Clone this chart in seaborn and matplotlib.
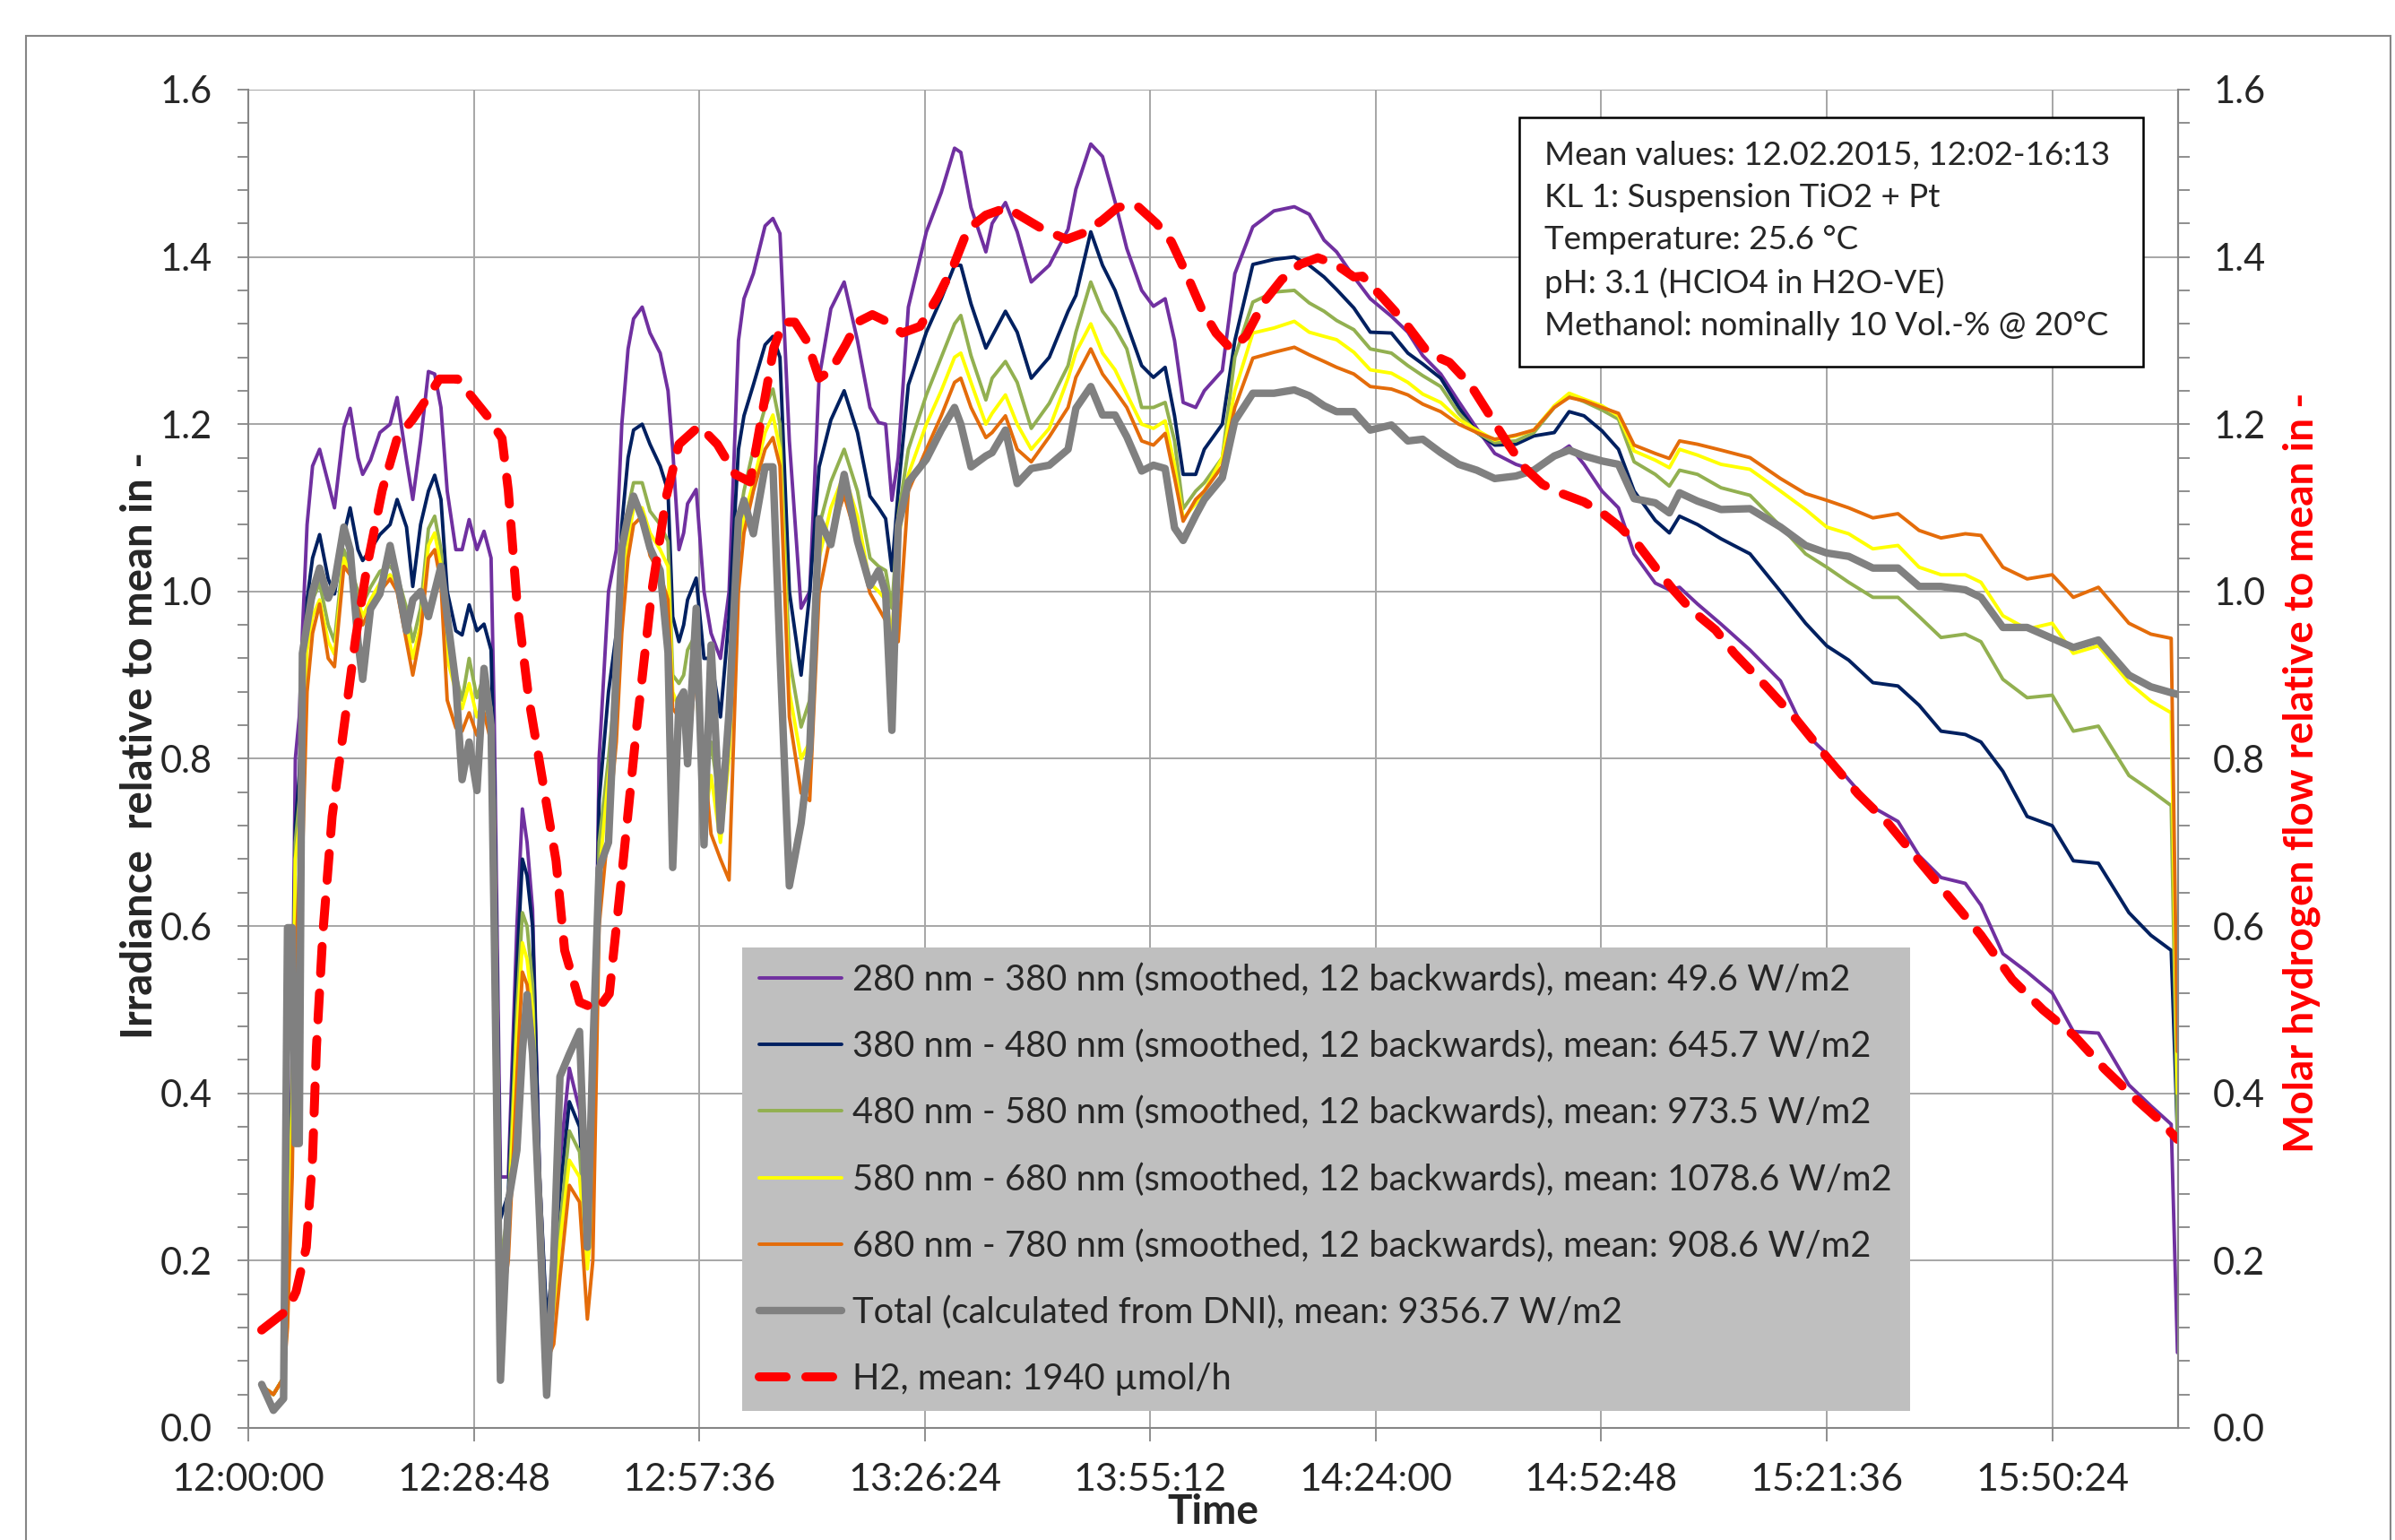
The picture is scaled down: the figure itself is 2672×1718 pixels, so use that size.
import numpy as np
import pandas as pd
import matplotlib
matplotlib.use('Agg')
import matplotlib.pyplot as plt
from matplotlib.patches import Rectangle
from matplotlib.ticker import MultipleLocator, FuncFormatter
import seaborn as sns

# time axis: minutes after 12:00:00
t_min = [1.7, 3.2, 4.5, 5.0, 5.6, 6.0, 6.5, 6.9, 7.5, 8.2,
         9.1, 10.2, 11.0, 12.2, 13.0, 14.0, 14.6, 15.6, 16.8, 18.1,
         19.0, 20.2, 21.0, 22.0, 23.0, 23.8, 24.6, 25.4, 26.5, 27.3,
         28.2, 29.2, 30.1, 31.0, 31.4, 32.2, 33.2, 34.3, 35.0, 35.6,
         36.3, 37.2, 38.1, 39.0, 39.8, 41.0, 42.3, 43.3, 44.0, 44.8,
         46.0,
         47.0, 47.7, 48.5, 49.2, 50.3, 51.3, 52.6, 53.6, 54.2, 55.0,
         55.6, 56.1, 57.2, 58.2, 59.1, 60.3, 61.4, 62.6, 63.3, 64.5,
         66.0, 67.0, 67.9, 69.1, 70.6, 71.7, 72.9, 74.4, 76.1, 77.8,
         79.4, 80.5, 81.4, 82.2, 83.0, 84.3, 86.6, 88.5, 90.2, 91.0,
         92.3, 94.2,
         95.0, 96.7, 98.2, 100.0, 102.3, 104.7, 105.7, 107.6, 109.1, 110.7,
         112.2, 114.1, 115.6, 117.1, 118.3, 119.4, 121.0, 122.1, 124.4, 126.0,
         128.3, 131.0, 133.6, 135.5, 137.4, 139.0, 141.2,
         143.3, 146.0, 148.1, 150.0, 152.3, 154.6, 156.9, 159.2, 161.9, 164.2,
         166.8, 168.7, 170.6, 172.9, 175.0, 177.0, 179.7, 181.5, 182.8, 185.1,
         188.1,
         191.8, 195.7, 198.9, 201.6, 204.4, 207.5, 210.7, 213.4, 216.2, 219.3,
         221.3, 224.1, 227.2, 230.4, 233.1, 236.3, 240.2, 243.0, 245.6, 246.4]

irr_280_380 = [0.05, 0.04, 0.06, 0.15, 0.45, 0.80, 0.85, 0.95, 1.08, 1.15,
               1.17, 1.13, 1.10, 1.196, 1.219, 1.16, 1.14, 1.157, 1.19, 1.20,
               1.232, 1.157, 1.11, 1.18, 1.263, 1.26, 1.22, 1.12, 1.05, 1.05,
               1.086, 1.05, 1.072, 1.04, 0.85, 0.30, 0.30, 0.60, 0.74, 0.70,
               0.62, 0.30, 0.12, 0.20, 0.32, 0.43, 0.38, 0.22, 0.30, 0.80,
               1.00,
               1.05, 1.20, 1.29, 1.326, 1.34, 1.309, 1.285, 1.24, 1.17, 1.05,
               1.07, 1.105, 1.122, 1.00, 0.95, 0.92, 1.00, 1.30, 1.35, 1.38,
               1.437, 1.446, 1.428, 1.18, 0.98, 1.00, 1.255, 1.338, 1.37, 1.30,
               1.22, 1.202, 1.20, 1.109, 1.16, 1.34, 1.43, 1.477, 1.53, 1.525,
               1.459, 1.406,
               1.44, 1.465, 1.43, 1.37, 1.39, 1.433, 1.481, 1.535, 1.52, 1.466,
               1.41, 1.36, 1.341, 1.35, 1.30, 1.226, 1.22, 1.24, 1.264, 1.38,
               1.436, 1.455, 1.46, 1.451, 1.42, 1.406, 1.376,
               1.35, 1.329, 1.31, 1.282, 1.26, 1.227, 1.195, 1.165, 1.152, 1.145,
               1.162, 1.174, 1.152, 1.12, 1.10, 1.045, 1.01, 1.002, 1.005, 0.985,
               0.961,
               0.93, 0.893, 0.83, 0.806, 0.775, 0.742, 0.725, 0.684, 0.658, 0.651,
               0.625, 0.567, 0.545, 0.52, 0.474, 0.472, 0.41, 0.385, 0.363, 0.09]

irr_380_480 = [0.05, 0.04, 0.06, 0.14, 0.42, 0.72, 0.78, 0.88, 0.99, 1.04,
               1.068, 1.015, 0.997, 1.068, 1.10, 1.05, 1.037, 1.05, 1.068, 1.08,
               1.11, 1.077, 1.006, 1.08, 1.12, 1.139, 1.11, 1.00, 0.953, 0.948,
               0.984, 0.953, 0.961, 0.93, 0.78, 0.25, 0.28, 0.55, 0.68, 0.66,
               0.60, 0.30, 0.13, 0.20, 0.28, 0.39, 0.36, 0.21, 0.30, 0.75,
               0.88,
               0.95, 1.08, 1.16, 1.193, 1.20, 1.176, 1.15, 1.12, 0.97, 0.94,
               0.96, 0.99, 1.016, 0.92, 0.92, 0.85, 0.97, 1.17, 1.21, 1.247,
               1.295, 1.305, 1.28, 1.00, 0.90, 0.998, 1.149, 1.205, 1.24, 1.19,
               1.114, 1.10, 1.087, 1.025, 1.12, 1.247, 1.31, 1.35, 1.39, 1.39,
               1.344, 1.291,
               1.305, 1.335, 1.31, 1.255, 1.28, 1.335, 1.354, 1.43, 1.39, 1.36,
               1.32, 1.27, 1.256, 1.268, 1.21, 1.14, 1.14, 1.17, 1.20, 1.30,
               1.391, 1.397, 1.40, 1.39, 1.376, 1.361, 1.339,
               1.31, 1.309, 1.285, 1.272, 1.255, 1.22, 1.19, 1.175, 1.176, 1.186,
               1.19, 1.215, 1.21, 1.192, 1.17, 1.12, 1.085, 1.07, 1.09, 1.08,
               1.063,
               1.045, 1.00, 0.962, 0.935, 0.918, 0.891, 0.887, 0.864, 0.833, 0.829,
               0.82, 0.785, 0.731, 0.72, 0.678, 0.675, 0.616, 0.589, 0.571, 0.35]

irr_480_580 = [0.05, 0.04, 0.06, 0.14, 0.40, 0.70, 0.75, 0.85, 0.95, 0.99,
               1.01, 0.96, 0.94, 1.05, 1.03, 1.00, 0.985, 1.005, 1.024, 1.03,
               1.02, 0.98, 0.94, 0.98, 1.075, 1.09, 1.05, 0.95, 0.90, 0.87,
               0.92, 0.873, 0.90, 0.86, 0.75, 0.20, 0.26, 0.50, 0.616, 0.60,
               0.53, 0.26, 0.10, 0.16, 0.24, 0.355, 0.33, 0.20, 0.28, 0.70,
               0.80,
               0.90, 1.02, 1.10, 1.13, 1.13, 1.096, 1.08, 1.06, 0.90, 0.89,
               0.90, 0.93, 0.95, 0.75, 0.82, 0.74, 0.84, 1.08, 1.12, 1.17,
               1.22, 1.242, 1.20, 0.92, 0.838, 0.87, 1.078, 1.131, 1.17, 1.12,
               1.04, 1.03, 1.025, 0.98, 1.09, 1.17, 1.235, 1.28, 1.32, 1.33,
               1.282, 1.229,
               1.255, 1.275, 1.25, 1.195, 1.225, 1.27, 1.31, 1.37, 1.335, 1.315,
               1.29, 1.22, 1.22, 1.226, 1.18, 1.099, 1.12, 1.13, 1.16, 1.28,
               1.346, 1.358, 1.36, 1.345, 1.335, 1.324, 1.313,
               1.29, 1.285, 1.27, 1.258, 1.245, 1.213, 1.19, 1.178, 1.18, 1.19,
               1.22, 1.234, 1.227, 1.217, 1.206, 1.155, 1.14, 1.126, 1.145, 1.14,
               1.124,
               1.115, 1.078, 1.045, 1.029, 1.011, 0.993, 0.993, 0.97, 0.945, 0.949,
               0.94, 0.895, 0.873, 0.876, 0.833, 0.839, 0.78, 0.762, 0.744, 0.35]

irr_580_680 = [0.05, 0.04, 0.06, 0.13, 0.38, 0.68, 0.72, 0.82, 0.93, 0.97,
               0.99, 0.94, 0.925, 1.04, 1.02, 0.99, 0.97, 0.99, 1.01, 1.02,
               1.01, 0.96, 0.92, 0.96, 1.055, 1.07, 1.03, 0.92, 0.88, 0.86,
               0.89, 0.85, 0.87, 0.84, 0.72, 0.18, 0.24, 0.47, 0.58, 0.56,
               0.50, 0.25, 0.09, 0.14, 0.22, 0.32, 0.30, 0.19, 0.26, 0.66,
               0.78,
               0.86, 0.99, 1.06, 1.10, 1.10, 1.07, 1.05, 1.03, 0.88, 0.86,
               0.87, 0.84, 0.90, 0.72, 0.78, 0.70, 0.80, 1.05, 1.09, 1.13,
               1.19, 1.211, 1.17, 0.88, 0.80, 0.82, 1.04, 1.10, 1.14, 1.09,
               1.01, 1.00, 0.99, 0.95, 1.06, 1.14, 1.20, 1.24, 1.28, 1.285,
               1.25, 1.20,
               1.213, 1.235, 1.20, 1.17, 1.195, 1.255, 1.286, 1.32, 1.285, 1.265,
               1.236, 1.20, 1.195, 1.204, 1.151, 1.087, 1.105, 1.12, 1.16, 1.24,
               1.309, 1.315, 1.323, 1.31, 1.305, 1.301, 1.286,
               1.265, 1.261, 1.25, 1.236, 1.226, 1.206, 1.193, 1.181, 1.186, 1.193,
               1.222, 1.237, 1.23, 1.222, 1.21, 1.168, 1.157, 1.148, 1.17, 1.163,
               1.152,
               1.146, 1.12, 1.098, 1.077, 1.069, 1.051, 1.055, 1.029, 1.02, 1.02,
               1.011, 0.971, 0.955, 0.962, 0.926, 0.935, 0.891, 0.869, 0.855, 0.40]

irr_680_780 = [0.05, 0.04, 0.06, 0.12, 0.30, 0.55, 0.66, 0.68, 0.88, 0.95,
               0.985, 0.92, 0.91, 1.03, 1.02, 0.98, 0.96, 0.98, 1.00, 1.015,
               1.00, 0.94, 0.90, 0.95, 1.04, 1.05, 1.01, 0.87, 0.837, 0.833,
               0.855, 0.828, 0.855, 0.82, 0.70, 0.13, 0.20, 0.42, 0.545, 0.53,
               0.47, 0.22, 0.08, 0.10, 0.18, 0.29, 0.27, 0.13, 0.20, 0.60,
               0.72,
               0.82, 0.95, 1.04, 1.08, 1.09, 1.043, 1.02, 0.99, 0.86, 0.85,
               0.85, 0.80, 0.91, 0.80, 0.71, 0.68, 0.655, 1.00, 1.07, 1.12,
               1.17, 1.184, 1.15, 0.85, 0.759, 0.75, 0.998, 1.069, 1.115, 1.06,
               0.998, 0.98, 0.965, 0.94, 0.94, 1.12, 1.17, 1.21, 1.25, 1.255,
               1.22, 1.184,
               1.19, 1.21, 1.17, 1.155, 1.185, 1.22, 1.256, 1.29, 1.26, 1.24,
               1.22, 1.18, 1.175, 1.189, 1.136, 1.084, 1.11, 1.12, 1.15, 1.22,
               1.279, 1.286, 1.292, 1.283, 1.275, 1.268, 1.26,
               1.245, 1.242, 1.235, 1.224, 1.215, 1.20, 1.19, 1.182, 1.187, 1.193,
               1.22, 1.232, 1.228, 1.22, 1.213, 1.175, 1.165, 1.159, 1.18, 1.176,
               1.169,
               1.16, 1.135, 1.117, 1.109, 1.10, 1.088, 1.093, 1.073, 1.064, 1.069,
               1.067, 1.029, 1.015, 1.02, 0.993, 1.005, 0.962, 0.949, 0.944, 0.45]

irr_total = [0.052, 0.021, 0.035, 0.598, 0.598, 0.34, 0.34, 0.926, 0.96, 1.00,
             1.028, 0.992, 1.01, 1.077, 1.05, 0.94, 0.895, 0.979, 0.997, 1.055,
             1.015, 0.953, 0.99, 1.00, 0.97, 1.00, 1.03, 0.97, 0.89, 0.775,
             0.82, 0.762, 0.908, 0.84, 0.60, 0.057, 0.27, 0.332, 0.45, 0.518,
             0.447, 0.25, 0.039, 0.20, 0.42, 0.447, 0.474, 0.216, 0.45, 0.669,
             0.70,
             0.91, 1.052, 1.09, 1.114, 1.087, 1.052, 1.025, 0.927, 0.67, 0.87,
             0.88, 0.794, 0.98, 0.697, 0.936, 0.714, 0.856, 1.087, 1.109, 1.069,
             1.149, 1.149, 0.927, 0.648, 0.723, 0.812, 1.087, 1.056, 1.14, 1.06,
             1.007, 1.025, 0.998, 0.834, 1.078, 1.131, 1.158, 1.193, 1.22, 1.20,
             1.149, 1.162,
             1.166, 1.193, 1.129, 1.147, 1.151, 1.17, 1.219, 1.245, 1.211, 1.211,
             1.185, 1.144, 1.151, 1.147, 1.076, 1.061, 1.091, 1.11, 1.136, 1.204,
             1.237, 1.237, 1.241, 1.234, 1.222, 1.215, 1.215,
             1.193, 1.199, 1.18, 1.182, 1.166, 1.152, 1.145, 1.135, 1.138, 1.145,
             1.162, 1.169, 1.162, 1.156, 1.152, 1.111, 1.106, 1.094, 1.118, 1.108,
             1.098,
             1.099, 1.077, 1.055, 1.046, 1.042, 1.028, 1.028, 1.006, 1.006, 1.002,
             0.993, 0.957, 0.957, 0.944, 0.933, 0.942, 0.90, 0.886, 0.879, 0.877]

# H2 flow (right axis), own time base
h2_t_min = [1.7, 5.0, 6.1, 7.4, 8.2, 8.7, 9.5, 10.7, 12.2, 13.7,
            15.2, 17.1, 19.0, 21.0, 22.9, 24.4, 26.7, 28.6, 30.5, 32.4,
            33.2, 34.3, 35.8, 37.4, 39.3, 40.4, 42.3, 44.6, 46.1, 47.7,
            49.6, 51.5, 53.4, 55.0, 57.6, 59.9, 62.2, 64.1, 65.6, 67.1,
            68.3, 69.8, 71.3, 72.9, 74.4, 76.3, 77.8, 79.7, 81.7, 83.5,
            85.8, 88.1, 90.0, 91.9, 94.2, 96.9, 98.8, 101.5, 104.5, 106.8,
            109.1, 111.0, 113.3, 116.0, 117.9, 119.8, 121.7, 123.6, 125.5, 127.4,
            129.7, 132.0, 134.3, 136.6, 138.9, 141.2, 142.3, 145.0, 147.7, 150.7,
            153.4, 156.1, 158.4, 160.7, 163.0, 165.3, 167.5, 170.6, 172.9, 175.2,
            177.5, 179.7, 182.0, 184.3, 187.4, 189.8, 193.8, 197.7, 201.6, 205.6,
            209.5, 213.4, 217.4, 221.3, 225.3, 229.2, 233.2, 237.1, 241.1, 244.2,
            246.4]
h2_rel = [0.117, 0.141, 0.163, 0.216, 0.323, 0.456, 0.589, 0.731, 0.837, 0.944,
          1.032, 1.121, 1.183, 1.206, 1.232, 1.254, 1.254, 1.232, 1.21, 1.183,
          1.121, 0.988, 0.873, 0.784, 0.678, 0.571, 0.509, 0.50, 0.519, 0.661,
          0.838, 0.998, 1.114, 1.176, 1.198, 1.176, 1.14, 1.131, 1.211, 1.291,
          1.322, 1.322, 1.30, 1.255, 1.264, 1.295, 1.322, 1.331, 1.322, 1.309,
          1.317, 1.353, 1.388, 1.433, 1.45, 1.459, 1.448, 1.433, 1.421, 1.429,
          1.444, 1.459, 1.463, 1.44, 1.418, 1.38, 1.339, 1.309, 1.29, 1.305,
          1.346, 1.373, 1.391, 1.399, 1.391, 1.376, 1.377, 1.35, 1.322, 1.285,
          1.274, 1.247, 1.213, 1.179, 1.148, 1.128, 1.118, 1.107, 1.094, 1.077,
          1.056, 1.029, 1.002, 0.978, 0.954, 0.926, 0.887, 0.847, 0.802, 0.758,
          0.722, 0.678, 0.633, 0.589, 0.536, 0.50, 0.469, 0.429, 0.393, 0.367,
          0.345]

series_labels = ['280 nm - 380 nm (smoothed, 12 backwards), mean: 49.6 W/m2',
                 '380 nm - 480 nm (smoothed, 12 backwards), mean: 645.7 W/m2',
                 '480 nm - 580 nm (smoothed, 12 backwards), mean: 973.5 W/m2',
                 '580 nm - 680 nm (smoothed, 12 backwards), mean: 1078.6 W/m2',
                 '680 nm - 780 nm (smoothed, 12 backwards), mean: 908.6 W/m2',
                 'Total (calculated from DNI), mean: 9356.7 W/m2']
h2_label = 'H2, mean: 1940 µmol/h'

info_lines = ['Mean values: 12.02.2015, 12:02-16:13',
              'KL 1: Suspension TiO2 + Pt',
              'Temperature: 25.6 °C',
              'pH: 3.1 (HClO4 in H2O-VE)',
              'Methanol: nominally 10 Vol.-% @ 20°C']

df = pd.DataFrame({'t': t_min, 'uv': irr_280_380, 'blue': irr_380_480,
                   'green': irr_480_580, 'yellow': irr_580_680,
                   'red': irr_680_780, 'total': irr_total})
df_h2 = pd.DataFrame({'t': h2_t_min, 'h2': h2_rel})

cols = ['uv', 'blue', 'green', 'yellow', 'red', 'total']
colors = ['#7030A0', '#002060', '#92B050', '#FFFF00', '#E46C0A', '#808080']
widths = [2.8, 2.8, 2.8, 2.8, 2.8, 6.0]

sns.set_theme(style='white')
plt.rcParams['font.family'] = ['Lato', 'DejaVu Sans']

grid_c = '#A6A6A6'
axis_c = '#868686'

fig = plt.figure(figsize=(26.72, 17.18), dpi=100)
ax = fig.add_axes([0.1037, 0.0728, 0.8058, 0.8690])

for col, c, lw, lab in zip(cols, colors, widths, series_labels):
    sns.lineplot(data=df, x='t', y=col, ax=ax, color=c, linewidth=lw,
                 label=lab, legend=False, estimator=None, sort=False)

ax.set_xlim(0, 246.5)
ax.set_ylim(0, 1.6)
ax.xaxis.set_major_locator(MultipleLocator(28.8))

def fmt_time(x, pos):
    s = int(round(x * 60)) + 12 * 3600
    return f"{s // 3600:02d}:{(s % 3600) // 60:02d}:{s % 60:02d}"

ax.xaxis.set_major_formatter(FuncFormatter(fmt_time))
ax.yaxis.set_major_locator(MultipleLocator(0.2))
ax.yaxis.set_minor_locator(MultipleLocator(0.04))
ax.yaxis.set_major_formatter(FuncFormatter(lambda v, p: f"{v:.1f}"))
ax.grid(True, which='major', color=grid_c, linewidth=1.4)
ax.set_axisbelow(True)

ax.tick_params(axis='x', which='major', bottom=True, direction='out', length=11,
               width=1.3, color=axis_c, labelsize=31, pad=17)
ax.tick_params(axis='y', which='both', left=True, direction='out', length=9,
               width=1.3, color=axis_c, labelsize=30, pad=20)
for side in ['left', 'bottom', 'right']:
    ax.spines[side].set_color(axis_c)
    ax.spines[side].set_linewidth(1.5)
ax.spines['top'].set_visible(False)

ax.set_xlabel('Time', fontsize=33, fontweight='bold')
ax.xaxis.set_label_coords(0.5, -0.049)
ax.set_ylabel('Irradiance  relative to mean in -', fontsize=34, fontweight='bold')
ax.yaxis.set_label_coords(-0.046, 0.51)

ax2 = ax.twinx()
sns.lineplot(data=df_h2, x='t', y='h2', ax=ax2, color='#FF0000', linewidth=7.2,
             linestyle=(0, (3.0, 2.2)), dash_capstyle='round',
             label=h2_label, legend=False, estimator=None, sort=False)
ax2.set_ylim(0, 1.6)
ax2.set_xlim(0, 246.5)
ax2.yaxis.set_major_locator(MultipleLocator(0.2))
ax2.yaxis.set_minor_locator(MultipleLocator(0.04))
ax2.yaxis.set_major_formatter(FuncFormatter(lambda v, p: f"{v:.1f}"))
ax2.grid(False)
ax2.tick_params(axis='y', which='both', right=True, left=False, direction='out',
                length=9, width=1.3, color=axis_c, labelsize=30, pad=19)
for side in ['top', 'left', 'bottom']:
    ax2.spines[side].set_visible(False)
ax2.spines['right'].set_color(axis_c)
ax2.spines['right'].set_linewidth(1.5)
ax2.set_ylabel('Molar hydrogen flow relative to mean in -', fontsize=33,
               fontweight='bold', color='#FF0000')
ax2.yaxis.set_label_coords(1.054, 0.49)

# legend on grey panel
ax2.add_patch(Rectangle((0.256, 0.0127), 0.605, 0.346, transform=ax2.transAxes,
                        facecolor='#BFBFBF', edgecolor='none', zorder=4))
h1, l1 = ax.get_legend_handles_labels()
h2, l2 = ax2.get_legend_handles_labels()
leg = ax2.legend(h1 + h2, l1 + l2, loc='upper left', bbox_to_anchor=(0.2647, 0.3476),
                 frameon=False, fontsize=28.7, borderpad=0, borderaxespad=0,
                 handlelength=2.3, handletextpad=0.3, labelspacing=0.92)
leg.set_zorder(5)

# info box
ax2.add_patch(Rectangle((0.6586, 0.7930), 0.3233, 0.1862, transform=ax2.transAxes,
                        facecolor='white', edgecolor='black', linewidth=1.8, zorder=6))
ax2.text(0.6716, 0.962, '\n'.join(info_lines), transform=ax2.transAxes,
         ha='left', va='top', fontsize=26.5, linespacing=1.52, zorder=7)

# outer chart frame
fig.patches.append(Rectangle((0.0109, -0.01), 0.9872, 0.9867, transform=fig.transFigure,
                             fill=False, edgecolor=axis_c, linewidth=1.5))

fig.savefig('out.png', dpi=100)
